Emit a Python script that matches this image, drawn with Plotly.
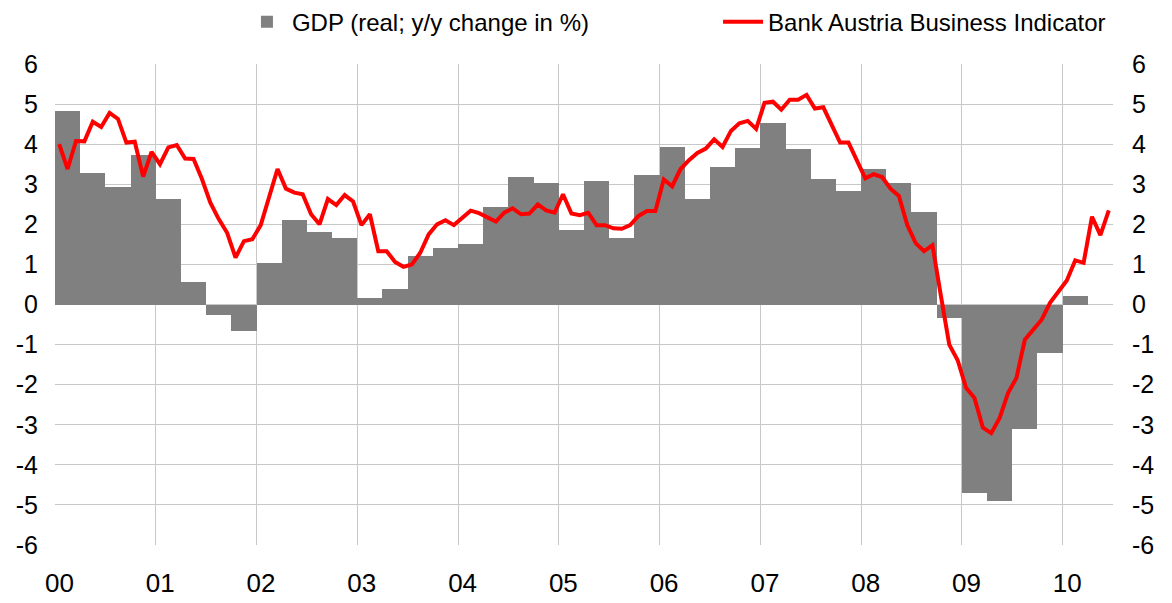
import plotly.graph_objects as go

# Quarterly GDP (real; y/y change in %), Q1 2000 .. Q1 2010
gdp_quarters = [
    "2000Q1", "2000Q2", "2000Q3", "2000Q4",
    "2001Q1", "2001Q2", "2001Q3", "2001Q4",
    "2002Q1", "2002Q2", "2002Q3", "2002Q4",
    "2003Q1", "2003Q2", "2003Q3", "2003Q4",
    "2004Q1", "2004Q2", "2004Q3", "2004Q4",
    "2005Q1", "2005Q2", "2005Q3", "2005Q4",
    "2006Q1", "2006Q2", "2006Q3", "2006Q4",
    "2007Q1", "2007Q2", "2007Q3", "2007Q4",
    "2008Q1", "2008Q2", "2008Q3", "2008Q4",
    "2009Q1", "2009Q2", "2009Q3", "2009Q4",
    "2010Q1",
]
gdp_values = [
    4.82, 3.27, 2.92, 3.72,
    2.62, 0.55, -0.25, -0.65,
    1.04, 2.12, 1.81, 1.65,
    0.15, 0.39, 1.22, 1.40,
    1.52, 2.44, 3.17, 3.04,
    1.87, 3.07, 1.65, 3.24,
    3.92, 2.63, 3.44, 3.91,
    4.52, 3.87, 3.12, 2.82,
    3.37, 3.03, 2.31, -0.33,
    -4.70, -4.90, -3.10, -1.21,
    0.20,
]

# Monthly Bank Austria Business Indicator, Jan 2000 .. Jun 2010
bci_start_year = 2000
bci_values = [
    4.00, 3.38, 4.08, 4.07, 4.56, 4.43, 4.78, 4.63, 4.04, 4.06, 3.19, 3.81,   # 2000
    3.50, 3.92, 3.98, 3.64, 3.63, 3.13, 2.54, 2.13, 1.79, 1.17, 1.58, 1.63,   # 2001
    1.98, 2.71, 3.38, 2.89, 2.79, 2.75, 2.25, 2.00, 2.63, 2.48, 2.73, 2.57,   # 2002
    1.98, 2.25, 1.33, 1.33, 1.06, 0.94, 1.00, 1.29, 1.75, 2.00, 2.10, 1.98,   # 2003
    2.15, 2.34, 2.28, 2.18, 2.07, 2.29, 2.40, 2.25, 2.27, 2.50, 2.35, 2.29,   # 2004
    2.75, 2.27, 2.23, 2.29, 1.98, 1.98, 1.90, 1.89, 1.98, 2.21, 2.33, 2.33,   # 2005
    3.12, 2.95, 3.38, 3.60, 3.78, 3.89, 4.12, 3.93, 4.33, 4.52, 4.58, 4.38,   # 2006
    5.03, 5.06, 4.86, 5.11, 5.11, 5.23, 4.89, 4.92, 4.50, 4.04, 4.04, 3.58,   # 2007
    3.15, 3.25, 3.18, 2.89, 2.71, 1.98, 1.53, 1.33, 1.48, 0.22, -1.00, -1.39, # 2008
    -2.08, -2.33, -3.07, -3.21, -2.83, -2.21, -1.83, -0.88, -0.63, -0.38, 0.04, 0.33,  # 2009
    0.60, 1.10, 1.04, 2.19, 1.73, 2.35,                                        # 2010
]

year_ticks = list(range(2000, 2011))
year_labels = ["00", "01", "02", "03", "04", "05", "06", "07", "08", "09", "10"]
y_ticks = list(range(-6, 7))
y_labels = [str(v) for v in y_ticks]  # plain hyphen-minus as in the original

# positions on a decimal-year axis
gdp_x = [int(q[:4]) + (int(q[-1]) - 1) * 0.25 + 0.125 for q in gdp_quarters]
bci_x = [bci_start_year + (i + 0.5) / 12 for i in range(len(bci_values))]

FONT = "Liberation Sans, Arial, sans-serif"

fig = go.Figure()
fig.add_trace(go.Bar(
    x=gdp_x, y=gdp_values, width=0.25,
    marker=dict(color="#808080", line=dict(width=0)),
    name="GDP (real; y/y change in %)",
    yaxis="y", legend="legend",
))
fig.add_trace(go.Scatter(
    x=bci_x, y=bci_values, mode="lines",
    line=dict(color="#ff0000", width=4),
    name="Bank Austria Business Indicator",
    yaxis="y2", legend="legend2",
))

grid = "#c8c8c8"
legend_common = dict(
    orientation="h", xanchor="left", y=1.087, yanchor="middle",
    font=dict(family=FONT, size=24, color="black"),
    itemwidth=40, bgcolor="rgba(0,0,0,0)",
)
# the page body adds an 8px offset, so margins are reduced by 8 on top/left
fig.update_layout(
    width=1172, height=603,
    margin=dict(l=47, r=67, t=56, b=66, autoexpand=False),
    paper_bgcolor="white", plot_bgcolor="white",
    bargap=0,
    showlegend=True,
    legend=dict(x=0.1767, **legend_common),
    legend2=dict(x=0.6267, **legend_common),
    xaxis=dict(
        range=[2000, 2010.5],
        tickvals=[y + 0.045 for y in year_ticks], ticktext=year_labels,
        showgrid=False, zeroline=False, showline=False, ticks="",
        tickfont=dict(family=FONT, size=26, color="black"),
        ticklabelstandoff=20, automargin=False,
        minor=dict(tick0=2000, dtick=1, showgrid=True, gridcolor=grid, gridwidth=1, ticks=""),
    ),
    yaxis=dict(
        range=[-6, 6], tickvals=y_ticks, ticktext=y_labels,
        showgrid=True, gridcolor=grid, gridwidth=1,
        zeroline=True, zerolinecolor=grid, zerolinewidth=1,
        showline=False, ticks="", automargin=False,
        tickfont=dict(family=FONT, size=25, color="black"),
        ticklabelstandoff=16,
    ),
    yaxis2=dict(
        range=[-6, 6], tickvals=y_ticks, ticktext=y_labels,
        overlaying="y", side="right",
        showgrid=False, zeroline=False, showline=False, ticks="", automargin=False,
        tickfont=dict(family=FONT, size=25, color="black"),
        ticklabelstandoff=18,
    ),
)

fig.write_html("out.html")
